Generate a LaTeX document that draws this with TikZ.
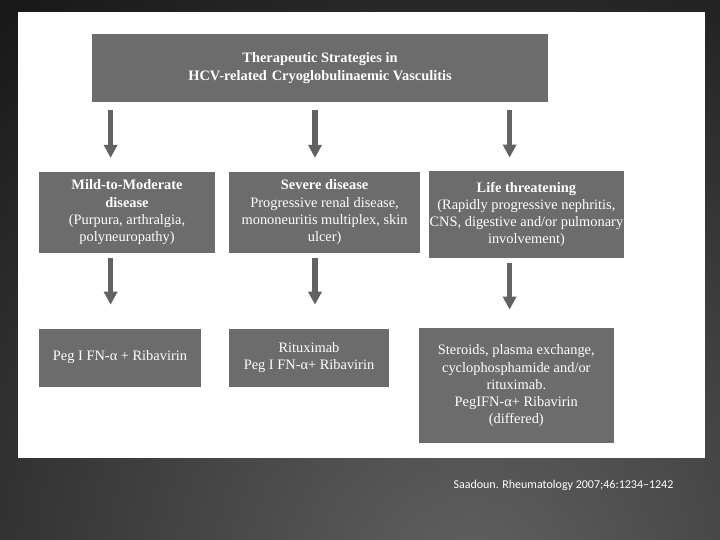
\documentclass[tikz,border=0pt]{standalone}
\usepackage{fontspec}
\setmainfont{Liberation Serif}
\newfontfamily\citefont{Carlito}
\usetikzlibrary{arrows.meta}
\definecolor{boxgray}{RGB}{108,108,108}
\definecolor{arrgray}{RGB}{98,98,98}
\tikzset{
  grbox/.style={fill=boxgray, text=white, align=center, inner sep=0pt,
    font=\fontsize{14.4}{17.3}\selectfont},
  downarr/.style={draw=arrgray, line width=5.5pt,
    -{Triangle[width=13pt,length=13pt]}}
}
\begin{document}
\begin{tikzpicture}[x=1pt,y=-1pt]
\useasboundingbox (0,0) rectangle (720,540);
\fill[black!90] (0,0) rectangle (720,540);
\begin{scope}
  \clip (0,0) rectangle (720,540);
  \shade[inner color=black!62, outer color=black!90] (470,580) circle (720);
\end{scope}
\fill[white] (18,12) rectangle (705,457.7);

\node[grbox, minimum width=456pt, minimum height=68pt] (title) at (320,68)
  {\textbf{Therapeutic Strategies in}\\\textbf{HCV-related\,\,Cryoglobulinaemic Vasculitis}};

\node[grbox, minimum width=176pt, minimum height=81pt] (mild) at (127,212.3)
  {\textbf{Mild-to-Moderate}\\\textbf{disease}\\(Purpura, arthralgia,\\polyneuropathy)};
\node[grbox, minimum width=191pt, minimum height=81pt] (severe) at (324.6,212.3)
  {\textbf{Severe disease}\\Progressive renal disease,\\mononeuritis multiplex, skin\\ulcer)};
\node[grbox, minimum width=195pt, minimum height=86pt] (life) at (526.4,214.5)
  {\textbf{Life threatening}\\(Rapidly progressive nephritis,\\CNS, digestive and/or pulmonary\\involvement)};

\node[grbox, minimum width=162pt, minimum height=58pt] (pegifn) at (120,357.5)
  {Peg I FN-α + Ribavirin};
\node[grbox, minimum width=160pt, minimum height=58pt] (ritux) at (309,357.5)
  {Rituximab\\Peg I FN-α+ Ribavirin};
\node[grbox, minimum width=195pt, minimum height=115pt] (steroids) at (516.3,385.9)
  {Steroids, plasma exchange,\\cyclophosphamide and/or\\rituximab.\\PegIFN-α+ Ribavirin\\(differed)};

\coordinate (c1) at (110.6,0);
\coordinate (c2) at (315,0);
\coordinate (c3) at (509.6,0);
\draw[downarr, shorten <=8pt, shorten >=13.7pt] (title.south -| c1) -- (mild.north -| c1);
\draw[downarr, shorten <=8pt, shorten >=13.7pt] (title.south -| c2) -- (severe.north -| c2);
\draw[downarr, shorten <=8pt, shorten >=13.7pt] (title.south -| c3) -- (life.north -| c3);
\draw[downarr, shorten <=4.6pt, shorten >=23.6pt] (mild.south -| c1) -- (pegifn.north -| c1);
\draw[downarr, shorten <=4.6pt, shorten >=23.6pt] (severe.south -| c2) -- (ritux.north -| c2);
\draw[downarr, shorten <=5pt, shorten >=18.6pt] (life.south -| c3) -- (steroids.north -| c3);

\node[text=white, font=\citefont\fontsize{12}{14}\selectfont, anchor=west] (cite) at (450,485)
  {Saadoun.  Rheumatology 2007;46:1234–1242};
\end{tikzpicture}
\end{document}
